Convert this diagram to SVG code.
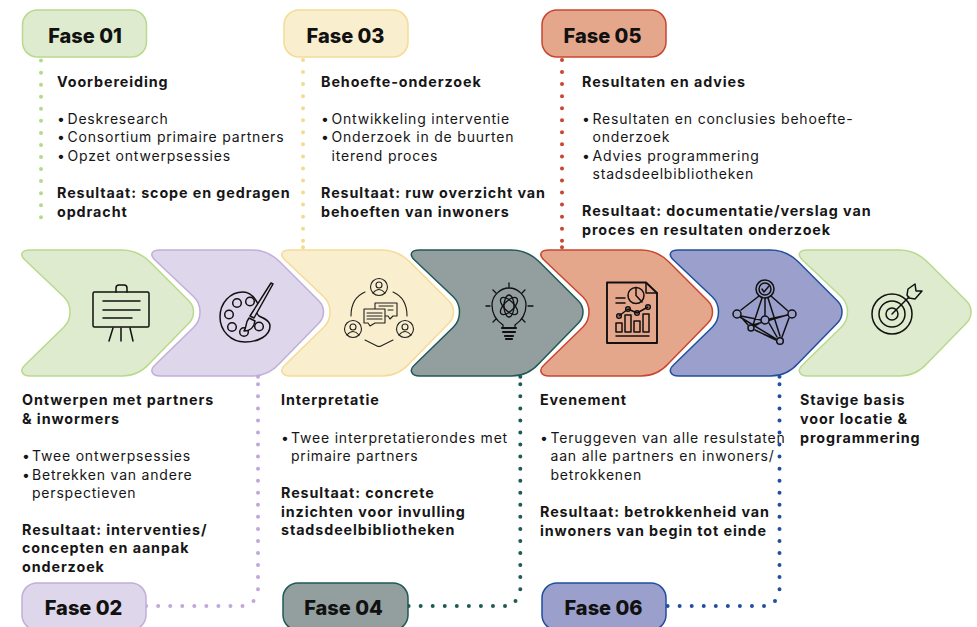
<svg xmlns="http://www.w3.org/2000/svg" xmlns:xlink="http://www.w3.org/1999/xlink" width="977" height="627" viewBox="0 0 977 627">
<style>
text{font-family:Inter,"Liberation Sans",sans-serif;fill:#161616;font-size:14px}
.b{font-weight:700;font-size:14.3px;letter-spacing:.92px}
.t{font-size:14px;letter-spacing:.8px}
.h{font-size:20px;font-weight:800;fill:#111;text-anchor:middle}
.s{stroke-width:1.5}
.ic{fill:none;stroke:#111;stroke-width:1.5;stroke-linecap:round;stroke-linejoin:round}
.ic2{fill:none;stroke:#222;stroke-width:1.1;stroke-linecap:round;stroke-linejoin:round}
.d{fill:none;stroke-width:4;stroke-linecap:round;stroke-dasharray:0 12.05}
.g{fill:#dfebcf;stroke:#b9d98c}.p{fill:#ded6ea;stroke:#c2aed9}.y{fill:#f9eece;stroke:#f5db94}
.k{fill:#929f9e;stroke:#1f5a54}.o{fill:#e5a78b;stroke:#c9452f}.u{fill:#9b9fcb;stroke:#214f9e}
</style>
<defs>
<path id="chev" d="M30 250H122C134 250 143 255 150 262L189 301C195 307 195 317 189 323L150 363C143 371 134 376 122 376H30C22 376 19 370 25 365L64 327C72 319 72 305 64 297L25 260C19 254 22 250 30 250Z"/>
</defs>

<g id="chevrons">
<g id="stap-1"><use xlink:href="#chev" class="g s"/><g class="ic">
<rect x="93" y="292" width="56" height="35" rx="1.5"/><path d="M116 292V288Q116 285 119 285H124Q127 285 127 288V292M103 301H140M103 310H140M103 318H132M113 328L109 341M121 328V341M130 328L133 341"/></g></g>
<g id="stap-2"><use xlink:href="#chev" x="130" class="p s"/><g class="ic">
<path d="M243 292C230 292 220 303 220 317C220 331 231 342 245 342C258 342 270 336 270 326C270 320 263 318 259 316C255 313 257 309 258 304C255 298 250 292 243 292Z"/>
<circle cx="237" cy="303" r="4.300"/><circle cx="250" cy="301.500" r="4.300"/><circle cx="229" cy="314.500" r="4.300"/><circle cx="232" cy="327" r="4.300"/><circle cx="259" cy="326.500" r="4.300"/><circle cx="244" cy="332" r="4.300"/>
<path fill="#ded6ea" d="M271 283L273 284L254 318L250 316ZM249 318L255 321C254 328 249 331 244 331C247 327 245 323 249 318Z"/></g></g>
<g id="stap-3"><use xlink:href="#chev" x="260" class="y s"/><g class="ic2">
<circle cx="379" cy="287" r="8.500"/><circle cx="379" cy="285" r="3"/><path d="M373 293Q379 286 385 293"/>
<circle cx="353" cy="329" r="8.500"/><circle cx="353" cy="327" r="3"/><path d="M347 335Q353 328 359 335"/>
<circle cx="405" cy="329" r="8.500"/><circle cx="405" cy="327" r="3"/><path d="M399 335Q405 328 411 335"/>
<path d="M365 292Q351 298 351 316M393 292Q407 298 407 316M365 340L377 346Q379 347 381 346L393 340"/>
<path d="M375 303H397V316H393L390 319L388 316H375Z"/><path fill="#f9eece" d="M364 309H385V323H375L370 326L368 323H364Z"/><path d="M367 313H382M367 316H382M367 319H382M379 306H393M388 310H393"/></g></g>
<g id="stap-4"><use xlink:href="#chev" x="389.500" class="k s"/><g class="ic">
<path stroke-width="1.300" d="M503 325C497 321 492 314 492 305C492 296 500 288 509 288C518 288 526 296 526 305C526 314 521 321 515 325V328H503Z"/>
<g stroke-width="1.300"><ellipse cx="509" cy="306" rx="5" ry="11" transform="rotate(45 509 306)"/><ellipse cx="509" cy="306" rx="5" ry="11" transform="rotate(-45 509 306)"/><ellipse cx="509" cy="306" rx="5" ry="11"/><path d="M509 283V287M493 290L496 293M525 290L522 293M486 306H490M528 306H533M493 322L496 319M525 322L522 319"/></g>
<path stroke-width="2.200" d="M502 328H516M503 332H515M505 336H513M506 339H512"/></g></g>
<g id="stap-5"><use xlink:href="#chev" x="519" class="o s"/><g class="ic">
<path stroke-width="1.900" stroke-linecap="butt" d="M607 282.500H646L657 293V343H607Z"/><path d="M646 282.500V293H657"/>
<circle cx="636" cy="295.500" r="8"/><path d="M636 295.500V287.500M636 295.500L642 302"/><path d="M616 298H625M616 303H625"/>
<path d="M619 316L628 309L637 313L648 307"/><circle cx="619" cy="316" r="2.300"/><circle cx="628" cy="309" r="2.300"/><circle cx="637" cy="313" r="2.300"/><circle cx="648" cy="307" r="2.300"/>
<path d="M616 323H622V332H616ZM625 315H631V332H625ZM634 321H640V332H634ZM643 314H649V332H643ZM616 336H649"/></g></g>
<g id="stap-6"><use xlink:href="#chev" x="648.500" class="u s"/><g class="ic">
<circle cx="765" cy="289" r="9"/><circle cx="765" cy="289" r="6"/><path d="M762 289L764 292L769 286"/>
<path d="M759 296L741 310M771 296L788 311M762 298L753 325M765 298V315M768 298L780 336M741 316L761 320M769 319L788 315M741 317L748 325M754 326L762 322M755 330L776 340M769 323L777 337M789 318L782 337M740 317L776 339M753 325L787 315"/>
<circle cx="737" cy="314" r="4" fill="#9b9fcb"/><circle cx="792" cy="314" r="4" fill="#9b9fcb"/><circle cx="765" cy="320" r="4" fill="#9b9fcb"/><circle cx="751" cy="328" r="3" fill="#9b9fcb"/><circle cx="780" cy="341" r="3.300" fill="#9b9fcb"/></g></g>
<g id="stap-7"><use xlink:href="#chev" x="777.500" class="g s"/><g class="ic">
<circle cx="892" cy="314" r="20"/><circle cx="892" cy="314" r="13"/><circle cx="892" cy="314" r="6"/>
<path d="M892 314L909 297M907 295L908 289L915 284L916 291L922 291L915 299L909 298Z"/></g></g>
</g>

<g id="connectors">
<path class="d" stroke="#b7d88c" d="M41 36.500V225"/>
<path class="d" stroke="#f5da91" d="M303 60V241M303 247.300h.01"/>
<path class="d" stroke="#c9452f" d="M562 60V241M562 247.300h.01"/>
<path class="d" stroke="#c0a9d8" d="M258 376.700h.01M258 384.300V591M253.500 601h.01M242.500 606H146"/>
<path class="d" stroke="#1f5a54" d="M520.300 376.700h.01M520.300 384.300V591M515.500 601h.01M505 606H408"/>
<path class="d" stroke="#214f9e" d="M779.500 376.700h.01M779.500 384.300V591M775 601h.01M764 606H667"/>
</g>

<g id="fase-01"><rect class="g s" x="22.500" y="10" width="124" height="47" rx="15"/><text class="h" x="85" y="43">Fase 01</text></g>
<g id="fase-03"><rect class="y s" x="284" y="10" width="124" height="47" rx="15"/><text class="h" x="345.500" y="43">Fase 03</text></g>
<g id="fase-05"><rect class="o s" x="542" y="10" width="124" height="47" rx="15"/><text class="h" x="602.500" y="43">Fase 05</text></g>
<g id="fase-02"><rect class="p s" x="22" y="583" width="124" height="47" rx="15"/><text class="h" x="83.500" y="615">Fase 02</text></g>
<g id="fase-04"><rect class="k s" x="283" y="583" width="125" height="47" rx="15"/><text class="h" x="343.500" y="615">Fase 04</text></g>
<g id="fase-06"><rect class="u s" x="542" y="583" width="124" height="47" rx="15"/><text class="h" x="603.500" y="615">Fase 06</text></g>

<g id="tekst-1">
<text class="b" x="57" y="87">Voorbereiding</text>
<text class="t" y="124"><tspan x="57">•</tspan><tspan x="67.500">Deskresearch</tspan></text>
<text class="t" y="142"><tspan x="57">•</tspan><tspan x="67.500">Consortium primaire partners</tspan></text>
<text class="t" y="161"><tspan x="57">•</tspan><tspan x="67.500">Opzet ontwerpsessies</tspan></text>
<text class="b" x="57" y="198">Resultaat: scope en gedragen</text>
<text class="b" x="57" y="217">opdracht</text>
</g>
<g id="tekst-3">
<text class="b" x="321" y="87">Behoefte-onderzoek</text>
<text class="t" y="124"><tspan x="321">•</tspan><tspan x="331.500">Ontwikkeling interventie</tspan></text>
<text class="t" y="142"><tspan x="321">•</tspan><tspan x="331.500">Onderzoek in de buurten</tspan></text>
<text class="t" x="331.500" y="161">iterend proces</text>
<text class="b" x="321" y="198">Resultaat: ruw overzicht van</text>
<text class="b" x="321" y="217">behoeften van inwoners</text>
</g>
<g id="tekst-5">
<text class="b" x="582" y="87">Resultaten en advies</text>
<text class="t" y="124"><tspan x="582">•</tspan><tspan x="592.500">Resultaten en conclusies behoefte-</tspan></text>
<text class="t" x="592.500" y="142">onderzoek</text>
<text class="t" y="161"><tspan x="582">•</tspan><tspan x="592.500">Advies programmering</tspan></text>
<text class="t" x="592.500" y="179">stadsdeelbibliotheken</text>
<text class="b" x="582" y="216">Resultaat: documentatie/verslag van</text>
<text class="b" x="582" y="235">proces en resultaten onderzoek</text>
</g>
<g id="tekst-2">
<text class="b" x="22" y="405">Ontwerpen met partners</text>
<text class="b" x="22" y="424">&amp; inwormers</text>
<text class="t" y="461"><tspan x="22">•</tspan><tspan x="32">Twee ontwerpsessies</tspan></text>
<text class="t" y="480"><tspan x="22">•</tspan><tspan x="32">Betrekken van andere</tspan></text>
<text class="t" x="32" y="498">perspectieven</text>
<text class="b" x="22" y="535">Resultaat: interventies/</text>
<text class="b" x="22" y="553">concepten en aanpak</text>
<text class="b" x="22" y="572">onderzoek</text>
</g>
<g id="tekst-4">
<text class="b" x="281" y="405">Interpretatie</text>
<text class="t" y="443"><tspan x="281">•</tspan><tspan x="291">Twee interpretatierondes met</tspan></text>
<text class="t" x="291" y="461">primaire partners</text>
<text class="b" x="281" y="498">Resultaat: concrete</text>
<text class="b" x="281" y="517">inzichten voor invulling</text>
<text class="b" x="281" y="535">stadsdeelbibliotheken</text>
</g>
<g id="tekst-6">
<text class="b" x="540" y="405">Evenement</text>
<text class="t" y="443"><tspan x="540">•</tspan><tspan x="550.500">Teruggeven van alle resulstaten</tspan></text>
<text class="t" x="550.500" y="461">aan alle partners en inwoners/</text>
<text class="t" x="550.500" y="480">betrokkenen</text>
<text class="b" x="540" y="517">Resultaat: betrokkenheid van</text>
<text class="b" x="540" y="536">inwoners van begin tot einde</text>
</g>
<g id="tekst-7">
<text class="b" x="800" y="405">Stavige basis</text>
<text class="b" x="800" y="424">voor locatie &amp;</text>
<text class="b" x="800" y="443">programmering</text>
</g>
</svg>
